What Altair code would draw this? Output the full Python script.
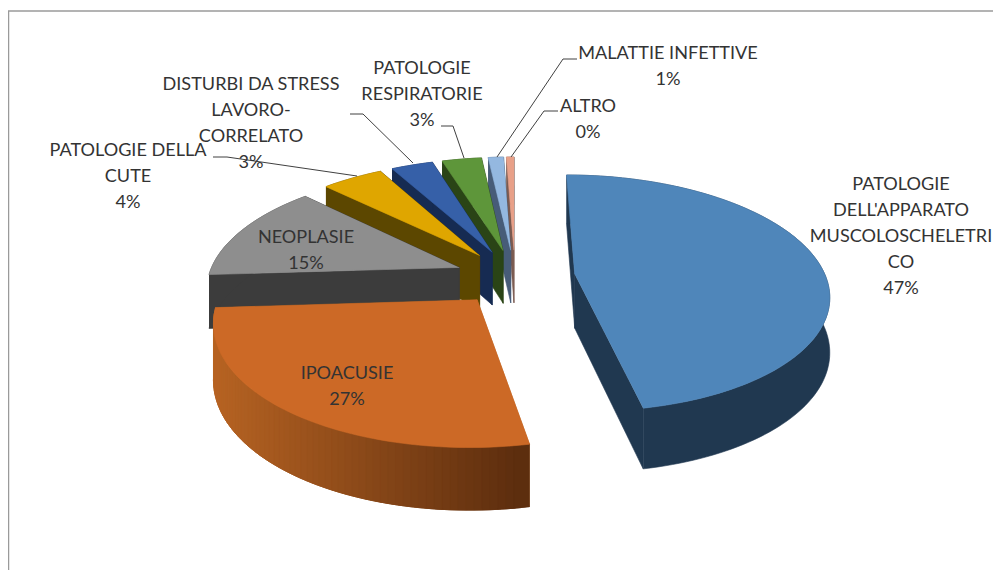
import math
import altair as alt
import numpy as np
import pandas as pd

# ---- data ----
categories = ["PATOLOGIE DELL'APPARATO MUSCOLOSCHELETRICO", "IPOACUSIE", "NEOPLASIE",
              "PATOLOGIE DELLA CUTE", "DISTURBI DA STRESS LAVORO-CORRELATO",
              "PATOLOGIE RESPIRATORIE", "MALATTIE INFETTIVE", "ALTRO"]
shares = [46.9, 27.1, 14.7, 4.4, 2.8, 2.9, 0.9, 0.3]

# ---- styles ----
top_colors = ["#4f86ba", "#cc6926", "#8e8e8e", "#dfa600", "#3660a8", "#5e963a", "#94b8e0", "#e8a088"]
wall_left = ["#203850", "#b86423", "#3c3c3c", "#5c4700", "#162b52", "#2a4416", "#475c78", "#7a5a50"]
wall_right = ["#203850", "#5c2d0e", "#3c3c3c", "#5c4700", "#162b52", "#2a4416", "#475c78", "#7a5a50"]
draw_order = [7, 6, 5, 4, 3, 2, 1, 0]

# ---- 3D pie projection (layout) ----
CX, CY, F, G, K, EXPLODE, DEPTH = 515, 277, 251, 116, 0.16, 0.24, 54
# perspective foreshortening of the angles at the back of the pie
WARP_FROM = [0, 268, 319, 335, 345, 356, 359, 360]
WARP_TO = [0, 268, 314, 331, 342.5, 354, 358, 360]


def project(X, Y, z=0):
    den = 1 + K * Y
    return CX + F * X / den, CY - G * Y / den + z * DEPTH / den ** 0.7


def mix(a, b, t):
    ca = [int(a[i:i + 2], 16) for i in (1, 3, 5)]
    cb = [int(b[i:i + 2], 16) for i in (1, 3, 5)]
    return "#%02x%02x%02x" % tuple(round(p + (q - p) * t) for p, q in zip(ca, cb))


total = sum(shares)
rows = []
pid = 0


def add_poly(points, color):
    global pid
    for j, (x, y) in enumerate(points):
        rows.append({"poly": pid, "ord": j, "x": x, "y": y, "color": color})
    pid += 1


angles = []
acc = 0.0
for s in shares:
    a = float(np.interp(acc / total * 360, WARP_FROM, WARP_TO))
    b = float(np.interp((acc + s) / total * 360, WARP_FROM, WARP_TO))
    angles.append((a, b))
    acc += s

for i in draw_order:
    a0, a1 = angles[i]
    mid = math.radians((a0 + a1) / 2)
    ax, ay = EXPLODE * math.sin(mid), EXPLODE * math.cos(mid)
    n = max(2, math.ceil((a1 - a0) / 1.5))
    th = [math.radians(a0 + (a1 - a0) * j / n) for j in range(n + 1)]
    rim = [(ax + math.sin(t), ay + math.cos(t)) for t in th]
    rim_x = [project(*p)[0] for p in rim]
    xmin, xmax = min(rim_x), max(rim_x)
    # straight walls
    add_poly([project(*rim[-1]), project(ax, ay), project(ax, ay, 1), project(*rim[-1], 1)], wall_left[i])
    add_poly([project(*rim[0]), project(ax, ay), project(ax, ay, 1), project(*rim[0], 1)], wall_left[i])
    # curved wall: overlapping bands, each running on to the end of the rim, so no seams show
    if wall_left[i] == wall_right[i]:
        add_poly([project(*p) for p in rim] + [project(*p, 1) for p in reversed(rim)], wall_left[i])
    else:
        ordered = sorted(range(n), key=lambda j: (rim_x[j] + rim_x[j + 1]) / 2)
        for j in ordered:
            xm = (rim_x[j] + rim_x[j + 1]) / 2
            t = (xm - xmin) / max(xmax - xmin, 1e-6)
            hi = min(j + 2, n)
            lo = max(j - 1, 0)
            band = rim[lo:hi + 1]
            add_poly([project(*p) for p in band] + [project(*p, 1) for p in reversed(band)],
                     mix(wall_left[i], wall_right[i], t))
    # top surface
    add_poly([project(ax, ay)] + [project(*p) for p in rim], top_colors[i])

poly_df = pd.DataFrame(rows)

# ---- labels ----
label_lines = [
    ["PATOLOGIE", "DELL'APPARATO", "MUSCOLOSCHELETRI", "CO", "47%"],
    ["IPOACUSIE", "27%"],
    ["NEOPLASIE", "15%"],
    ["PATOLOGIE DELLA", "CUTE", "4%"],
    ["DISTURBI DA STRESS", "LAVORO-", "CORRELATO", "3%"],
    ["PATOLOGIE", "RESPIRATORIE", "3%"],
    ["MALATTIE INFETTIVE", "1%"],
    ["ALTRO", "0%"],
]
label_x = [901, 347, 306, 128, 251, 422, 668, 588]
label_first_y = [185, 374, 238, 151, 85, 69, 54, 107]
LINE_STEP = 26
text_rows = []
for lines, lx, ly in zip(label_lines, label_x, label_first_y):
    for k, t in enumerate(lines):
        text_rows.append({"x": lx, "y": ly + k * LINE_STEP, "t": t, "id": len(text_rows)})
text_df = pd.DataFrame(text_rows)

leaders = [
    [(213, 157), (227, 157), (357, 176)],
    [(350, 114), (363, 114), (413, 163)],
    [(441, 126), (453, 126), (464, 158)],
    [(577, 59), (563, 59), (497, 157)],
    [(558, 111), (544, 111), (511, 157)],
]
lead_rows = []
for li, pts in enumerate(leaders):
    for j, (x, y) in enumerate(pts):
        lead_rows.append({"line": li, "ord": j, "x": x, "y": y})
lead_df = pd.DataFrame(lead_rows)

W, H = 985, 562
xs = alt.Scale(domain=[8, 8 + W], range=[0, W], nice=False, zero=False)
ys = alt.Scale(domain=[8, 8 + H], range=[0, H], nice=False, zero=False)
X = alt.X("x:Q", scale=xs, axis=None)
Y = alt.Y("y:Q", scale=ys, axis=None)

polys = alt.Chart(poly_df).mark_line(strokeWidth=0.6, interpolate="linear").encode(
    x=X, y=Y, order="ord:Q", detail="poly:N",
    stroke=alt.Stroke("color:N", scale=None),
    fill=alt.Fill("color:N", scale=None),
)
lead = alt.Chart(lead_df).mark_line(color="#404040", strokeWidth=1).encode(
    x=X, y=Y, order="ord:Q", detail="line:N")
text = alt.Chart(text_df).mark_text(font="Lato", fontSize=18.1, color="#333333", baseline="middle", align="center").encode(
    x=X, y=Y, text="t:N", detail="id:N")
frame_top = alt.Chart(pd.DataFrame({"a": [0]})).mark_rule(color="#9a9a9a", strokeWidth=1.5).encode(
    x=alt.value(0), x2=alt.value(W), y=alt.value(3))
frame_left = alt.Chart(pd.DataFrame({"a": [0]})).mark_rule(color="#9a9a9a", strokeWidth=1.5).encode(
    y=alt.value(3), y2=alt.value(H), x=alt.value(0.5))

chart = alt.layer(frame_top, frame_left, polys, lead, text).properties(
    width=W, height=H, padding=0, autosize=alt.AutoSizeParams(type="none"), background="white"
).configure_view(stroke=None)

chart.save("out.html", embed_options={"renderer": "svg", "actions": False})
